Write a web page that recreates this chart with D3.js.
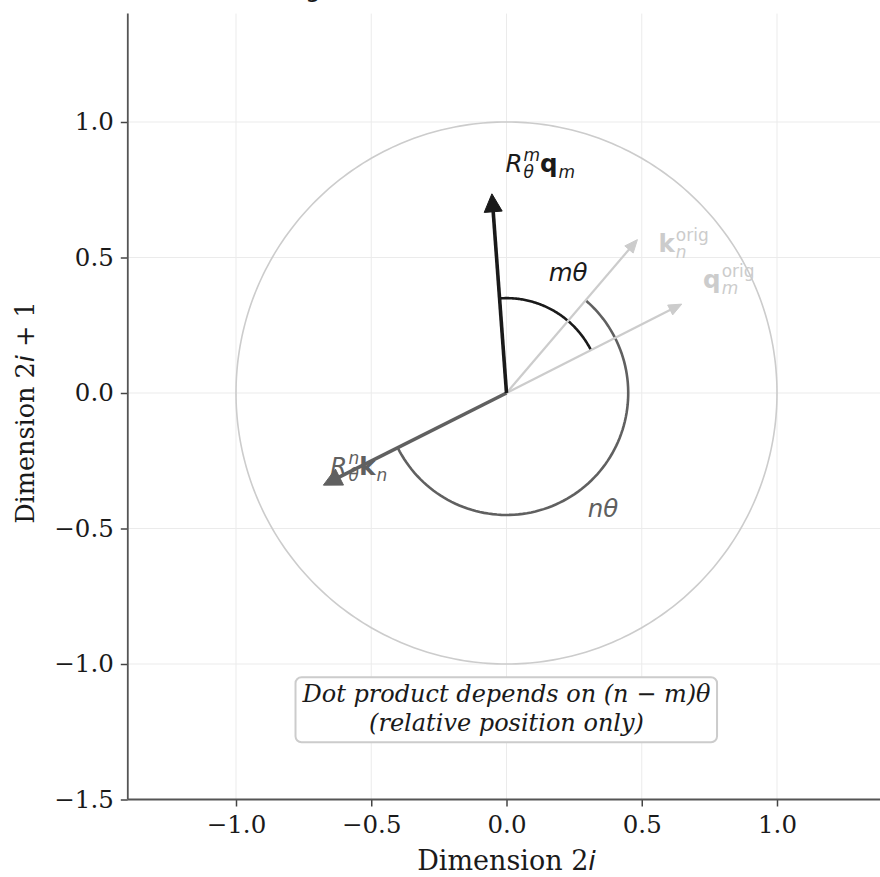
<!DOCTYPE html>
<html><head><meta charset="utf-8">
<script src="https://cdn.jsdelivr.net/npm/d3@7"></script>
<style>body{margin:0;background:#fff} svg{display:block}</style>
</head><body>
<svg id="chart" width="880" height="877"></svg>
<script>
// ---------- data ----------
const xTicks = [-1.0, -0.5, 0.0, 0.5, 1.0];
const yTicks = [-1.5, -1.0, -0.5, 0.0, 0.5, 1.0];
const xDomain = [-1.4, 1.4];
const yDomain = [-1.5, 1.4];
const circleRadius = 1.0;

const vectorNames  = ["qOrig", "kOrig", "qRot", "kRot"];
const vectorTips   = [[0.648, 0.328], [0.484, 0.566], [-0.054, 0.735], [-0.677, -0.340]];
const vectorColors = ["#cccccc", "#cccccc", "#1a1a1a", "#606060"];
const vectorWidths = [2.2, 2.2, 3.6, 3.6];
const vectorHeads  = [[13, 11], [13, 11], [18, 18], [18, 18]]; // [length, width] px

// arcs: [from vector, to vector, radius] (drawn counter-clockwise)
const arcFrom   = ["qOrig", "kRot"];
const arcTo     = ["qRot", "kOrig"];
const arcRadius = [0.35, 0.45];
const arcColors = ["#1a1a1a", "#606060"];

const labelPos    = [[0.125, 0.815], [0.655, 0.520], [0.822, 0.386], [-0.546, -0.303], [0.228, 0.412], [0.357, -0.457]];
const labelColors = ["#1a1a1a", "#cccccc", "#cccccc", "#606060", "#1a1a1a", "#606060"];
const labelParts = [
  [{t: "R", s: "it"}, {sub: "θ", sup: "m"}, {t: "q", s: "bf"}, {sub: "m"}],
  [{t: "k", s: "bf"}, {sub: "n", sup: "orig", supS: "rm"}],
  [{t: "q", s: "bf"}, {sub: "m", sup: "orig", supS: "rm"}],
  [{t: "R", s: "it"}, {sub: "θ", sup: "n"}, {t: "k", s: "bf"}, {sub: "n"}],
  [{t: "mθ", s: "it"}],
  [{t: "nθ", s: "it"}]
];

const noteCenter = [0.0, -1.178];
const noteLines = ["Dot product depends on (n − m)θ", "(relative position only)"];
const titleText = "RoPE: Rotating Vectors in 2D";
const xLabel = "Dimension 2";
const yLabel = "Dimension 2";

// ---------- layout ----------
const svg = d3.select("#chart");
const x = d3.scaleLinear().domain(xDomain).range([127.8, 885.2]);
const y = d3.scaleLinear().domain(yDomain).range([799.5, 13.6]);
const [X0, X1] = x.range();
const [Y0, Y1] = y.range();
const SERIF = "'DejaVu Serif', serif";
const SANS = "'DejaVu Sans', sans-serif";

// title (mostly clipped above the figure)
svg.append("text").attr("x", 137).attr("y", -3).attr("font-family", SANS)
  .attr("font-size", 25).attr("fill", "#1a1a1a").text(titleText);

// grid
const grid = svg.append("g").attr("stroke", "#ebebeb").attr("stroke-width", 1);
grid.selectAll(".gx").data(xTicks).join("line")
  .attr("x1", d => x(d)).attr("x2", d => x(d)).attr("y1", Y0).attr("y2", Y1);
grid.selectAll(".gy").data(yTicks).join("line")
  .attr("y1", d => y(d)).attr("y2", d => y(d)).attr("x1", X0).attr("x2", X1);

// unit circle
const circLine = d3.line().x(d => x(circleRadius * Math.cos(d))).y(d => y(circleRadius * Math.sin(d)));
svg.append("path").attr("d", circLine(d3.range(0, 2 * Math.PI + 0.001, Math.PI / 180)))
  .attr("fill", "none").attr("stroke", "#cccccc").attr("stroke-width", 1.6);

// arcs
const angleOf = name => { const v = vectorTips[vectorNames.indexOf(name)]; return Math.atan2(v[1], v[0]); };
arcFrom.forEach((f, i) => {
  const a0 = angleOf(f);
  let a1 = angleOf(arcTo[i]);
  while (a1 < a0) a1 += 2 * Math.PI;
  const r = arcRadius[i];
  const pts = d3.range(0, 101).map(k => a0 + (a1 - a0) * k / 100);
  const ln = d3.line().x(a => x(r * Math.cos(a))).y(a => y(r * Math.sin(a)));
  svg.append("path").attr("d", ln(pts)).attr("fill", "none")
    .attr("stroke", arcColors[i]).attr("stroke-width", 2.6);
});

// arrows
const drawOrder = [0, 1, 3, 2];
drawOrder.forEach(i => {
  const tip = vectorTips[i];
  const px0 = x(0), py0 = y(0), px1 = x(tip[0]), py1 = y(tip[1]);
  const dx = px1 - px0, dy = py1 - py0, L = Math.hypot(dx, dy);
  const ux = dx / L, uy = dy / L;
  const [hl, hw] = vectorHeads[i];
  const bx = px1 - ux * hl, by = py1 - uy * hl;
  svg.append("line").attr("x1", px0).attr("y1", py0).attr("x2", bx + ux * 2).attr("y2", by + uy * 2)
    .attr("stroke", vectorColors[i]).attr("stroke-width", vectorWidths[i]);
  const pts = [[px1, py1], [bx - uy * hw / 2, by + ux * hw / 2], [bx + uy * hw / 2, by - ux * hw / 2]];
  svg.append("path").attr("d", "M" + pts.map(p => p.join(",")).join("L") + "Z")
    .attr("fill", vectorColors[i]).attr("stroke", vectorColors[i]).attr("stroke-width", 1);
});

// math-like labels
function styleText(t, s) {
  t.attr("font-family", SANS);
  if (s === "it") t.attr("font-style", "italic");
  if (s === "bf") t.attr("font-weight", "bold");
  return t;
}
function mathLabel(parts, pos, color) {
  const g = svg.append("g").attr("fill", color);
  const fs = 24.5, sm = 17;
  let cur = 0;
  parts.forEach(p => {
    if (p.t !== undefined) {
      const t = styleText(g.append("text").attr("x", cur).attr("y", 0).attr("font-size", fs).text(p.t), p.s || "it");
      cur += t.node().getComputedTextLength();
    } else {
      let w = 0;
      if (p.sub !== undefined) {
        const t = styleText(g.append("text").attr("x", cur + 1).attr("y", 6).attr("font-size", sm).text(p.sub), p.subS || "it");
        w = Math.max(w, t.node().getComputedTextLength() + 1);
      }
      if (p.sup !== undefined) {
        const t = styleText(g.append("text").attr("x", cur + 1).attr("y", -11).attr("font-size", sm).text(p.sup), p.supS || "it");
        w = Math.max(w, t.node().getComputedTextLength() + 1);
      }
      cur += w;
    }
  });
  g.attr("transform", `translate(${x(pos[0]) - cur / 2},${y(pos[1])})`);
}
labelParts.forEach((parts, i) => mathLabel(parts, labelPos[i], labelColors[i]));

// note box
const note = svg.append("g");
const noteText = note.append("g").attr("font-family", SERIF).attr("font-style", "italic")
  .attr("font-size", 24).attr("fill", "#1a1a1a").attr("text-anchor", "middle");
noteLines.forEach((ln, i) => {
  noteText.append("text").attr("x", x(noteCenter[0])).attr("y", y(noteCenter[1]) - 10 + i * 29).text(ln);
});
const bb = noteText.node().getBBox();
note.insert("rect", ":first-child")
  .attr("x", bb.x - 6).attr("y", bb.y - 3).attr("width", bb.width + 12).attr("height", bb.height + 8)
  .attr("rx", 6).attr("fill", "#ffffff").attr("stroke", "#cccccc").attr("stroke-width", 2);

// axes
const fmt = d3.format(".1f");
const xAxis = svg.append("g").attr("transform", `translate(0,${Y0})`)
  .call(d3.axisBottom(x).tickValues(xTicks).tickFormat(fmt).tickSize(7).tickPadding(9));
const yAxis = svg.append("g").attr("transform", `translate(${X0},0)`)
  .call(d3.axisLeft(y).tickValues(yTicks).tickFormat(fmt).tickSize(7).tickPadding(7));
[xAxis, yAxis].forEach(a => {
  a.select(".domain").remove();
  a.selectAll(".tick line").attr("stroke", "#444").attr("stroke-width", 1.5);
  a.selectAll(".tick text").attr("font-family", SERIF).attr("font-size", 24.5).attr("fill", "#1a1a1a");
});
// spines
svg.append("line").attr("x1", X0).attr("x2", X0).attr("y1", Y0).attr("y2", Y1)
  .attr("stroke", "#555").attr("stroke-width", 1.8);
svg.append("line").attr("x1", X0).attr("x2", X1).attr("y1", Y0).attr("y2", Y0)
  .attr("stroke", "#555").attr("stroke-width", 1.8);

// axis labels
const xl = svg.append("text").attr("x", x(0)).attr("y", 870).attr("text-anchor", "middle")
  .attr("font-family", SERIF).attr("font-size", 27).attr("fill", "#1a1a1a");
xl.append("tspan").text(xLabel);
xl.append("tspan").attr("font-family", SANS).attr("font-style", "italic").text("i");
const ycy = (Y0 + Y1) / 2 + 6;
const yl = svg.append("text").attr("transform", `translate(34,${ycy}) rotate(-90)`).attr("text-anchor", "middle")
  .attr("font-family", SERIF).attr("font-size", 25.5).attr("fill", "#1a1a1a");
yl.append("tspan").text(yLabel);
yl.append("tspan").attr("font-family", SANS).attr("font-style", "italic").text("i");
yl.append("tspan").text(" + 1");
</script>
</body></html>
